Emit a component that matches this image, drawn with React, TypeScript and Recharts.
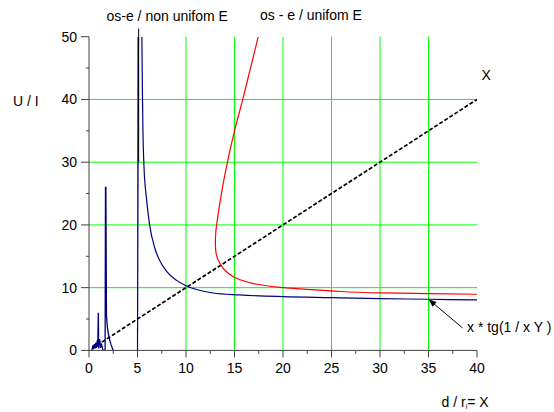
// U/I against d/r_i = X: uniform vs. non-uniform field, with the U/I = X reference.
import { Line, LineChart, ReferenceLine, XAxis, YAxis } from "recharts";

const xTicks = [0, 2.5, 5, 7.5, 10, 12.5, 15, 17.5, 20, 22.5, 25, 27.5, 30, 32.5, 35, 37.5, 40];
const yTicks = [0, 5, 10, 15, 20, 25, 30, 35, 40, 45, 50];
const gridX = [5, 10, 15, 20, 25, 30, 35];
const gridY = [10, 20, 30, 40];

// os - e / unifom E (U/I falls monotonically along the curve)
const uniformX = [17.45, 16.65, 15.85, 15.0, 14.27, 13.65, 13.25, 13.08, 13.03, 13.1, 13.5, 14.2, 15.5, 17.0, 20, 25, 30, 35, 40];
const uniformY = [50, 45, 40, 35, 30, 25, 21, 19, 17, 15.5, 13.85, 12.5, 11.3, 10.65, 10.0, 9.48, 9.16, 9.05, 8.95];

// os-e / non unifom E, main branch
const nonUniformX = [5.45, 5.5, 5.56, 5.66, 5.94, 6.25, 6.8, 7.3, 8, 9, 10, 12.8, 15.5, 20, 25, 30, 35, 40];
const nonUniformY = [50, 42, 35, 29.6, 24, 20, 16.2, 14.3, 12.6, 11.2, 10.3, 9.15, 8.84, 8.57, 8.41, 8.25, 8.15, 8.04];

// os-e / non unifom E, jitter and spikes close to the origin
const nearX = [0.3, 0.4, 0.45, 0.55, 0.6, 0.7, 0.75, 0.85, 0.9, 0.96, 1.0, 1.1, 1.2, 1.3, 1.45, 1.66, 1.7, 1.74, 1.8, 1.9, 2.05, 2.25, 2.5];
const nearY = [0, 0.8, 0.2, 1.0, 0.3, 1.2, 0.4, 1.6, 0.5, 6.0, 0.3, 1.8, 0.4, 0.9, 0, 0, 26, 26, 5.5, 3.6, 2.2, 1.0, 0];

// asymptote spike near X = 5
const spikeX = [5.0, 5.1];
const spikeY = [0, 50];

// U/I = X
const diagX = [0.8, 40];
const diagY = [0.8, 40];

const toPoints = (xs: number[], ys: number[]) => xs.map((x, i) => ({ x, y: ys[i] }));

const uniform = toPoints(uniformX, uniformY);
const nonUniform = toPoints(nonUniformX, nonUniformY);
const nearOrigin = toPoints(nearX, nearY);
const spike = toPoints(spikeX, spikeY);
const diagonal = toPoints(diagX, diagY);

const FONT = "'Liberation Sans', Arial, sans-serif";
const AXIS = "#404040";

function XTick({ x, y, payload }: any) {
  const major = payload.value % 5 === 0;
  return (
    <g>
      <line x1={x} x2={x} y1={y} y2={y + (major ? 7 : 3.5)} stroke={AXIS} />
      {major && (
        <text x={x} y={y + 23} textAnchor="middle" fontSize={14} fontFamily={FONT} fill="#000">
          {payload.value}
        </text>
      )}
    </g>
  );
}

function YTick({ x, y, payload }: any) {
  const major = payload.value % 10 === 0;
  return (
    <g>
      <line x1={x - (major ? 8 : 3)} x2={x} y1={y} y2={y} stroke={AXIS} />
      {major && (
        <text x={x - 12} y={y + 5} textAnchor="end" fontSize={14} fontFamily={FONT} fill="#000">
          {payload.value}
        </text>
      )}
    </g>
  );
}

// pointer from the formula label onto the curve, head at the first point
function Pointer({ x1, y1, x2, y2 }: any) {
  const a = Math.atan2(y2 - y1, x2 - x1);
  const len = 8;
  const w = 3;
  const bx = x1 + len * Math.cos(a);
  const by = y1 + len * Math.sin(a);
  const px = -Math.sin(a) * w;
  const py = Math.cos(a) * w;
  return (
    <g>
      <line x1={x1} y1={y1} x2={x2} y2={y2} stroke="#000" strokeWidth={1} />
      <polygon points={`${x1},${y1} ${bx + px},${by + py} ${bx - px},${by - py}`} fill="#000" />
    </g>
  );
}

export default function App() {
  return (
    <div style={{ position: "absolute", left: 0, top: 0, width: 554, height: 412, background: "#fff" }}>
      <LineChart width={554} height={412} margin={{ top: 36.7, right: 77, bottom: 0, left: 0 }}>
        <XAxis
          type="number"
          dataKey="x"
          domain={[0, 40]}
          ticks={xTicks}
          interval={0}
          allowDataOverflow
          height={61.6}
          tickSize={0}
          tickMargin={0}
          axisLine={{ stroke: AXIS }}
          tickLine={false}
          tick={<XTick />}
        />
        <YAxis
          type="number"
          dataKey="y"
          domain={[0, 50]}
          ticks={yTicks}
          interval={0}
          allowDataOverflow
          width={89}
          tickSize={0}
          tickMargin={0}
          axisLine={{ stroke: AXIS }}
          tickLine={false}
          tick={<YTick />}
        />
        {gridX.map((v) => (
          <ReferenceLine key={`gx${v}`} x={v} stroke="#00ff00" strokeWidth={1} />
        ))}
        {gridY.map((v) => (
          <ReferenceLine key={`gy${v}`} y={v} stroke="#00ff00" strokeWidth={1} />
        ))}
        <Line data={diagonal} dataKey="y" type="linear" stroke="#000" strokeWidth={1.7} strokeDasharray="4 2" dot={false} isAnimationActive={false} />
        <Line data={nearOrigin} dataKey="y" type="linear" stroke="#000080" strokeWidth={1.3} dot={false} isAnimationActive={false} />
        <Line data={spike} dataKey="y" type="linear" stroke="#000080" strokeWidth={1.2} dot={false} isAnimationActive={false} />
        <Line data={nonUniform} dataKey="y" type="monotoneX" stroke="#000080" strokeWidth={1.2} dot={false} isAnimationActive={false} />
        <Line data={uniform} dataKey="y" type="monotoneY" stroke="#ff0000" strokeWidth={1.2} dot={false} isAnimationActive={false} />
        <ReferenceLine
          segment={[{ x: 5.12, y: 51.3 }, { x: 5.12, y: 30 }]}
          stroke="#000"
          strokeWidth={1}
          ifOverflow="visible"
        />
        <ReferenceLine
          segment={[{ x: 35, y: 8.15 }, { x: 38.5, y: 3.6 }]}
          ifOverflow="visible"
          shape={<Pointer />}
        />
      </LineChart>
      <svg
        width={554}
        height={412}
        style={{ position: "absolute", left: 0, top: 0, pointerEvents: "none" }}
        fontFamily={FONT}
        fontSize={14}
        fill="#000"
      >
        <text x={106.5} y={20.5}>os-e / non unifom E</text>
        <text x={260} y={20}>os - e / unifom E</text>
        <text x={481.5} y={80}>X</text>
        <text x={13} y={106}>U / I</text>
        <text x={467} y={332}>x * tg(1 / x Y )</text>
        <text x={441.5} y={406.5}>
          d / r
          <tspan fontSize={7} dy={2}>i</tspan>
          <tspan dy={-2}>= X</tspan>
        </text>
      </svg>
    </div>
  );
}
